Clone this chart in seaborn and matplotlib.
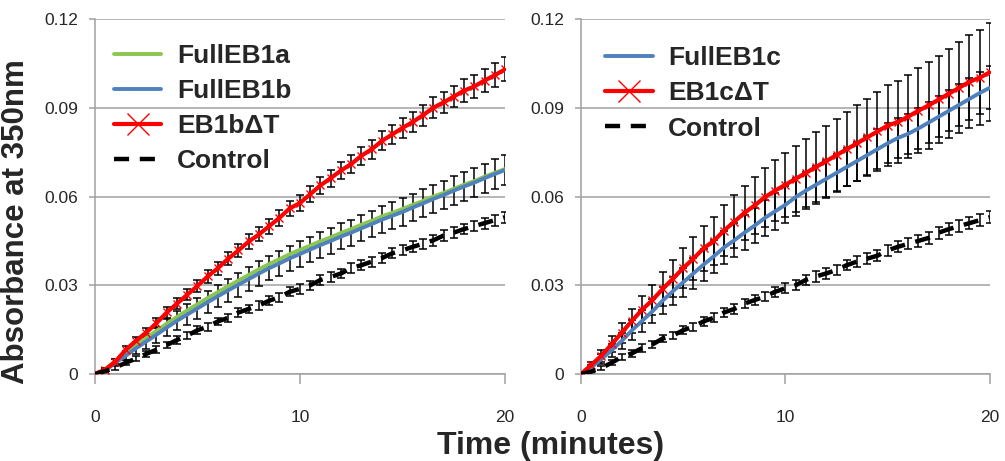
"""
Turbidity assay: absorbance at 350nm over time, two panels (EB1b and EB1c constructs).
Run: python plot.py
"""

import numpy as np
import pandas as pd
import matplotlib
matplotlib.use("Agg")
import matplotlib.pyplot as plt
import seaborn as sns

sns.set_style("white")
plt.rcParams.update({
    "font.family": ["Liberation Sans", "DejaVu Sans"],
    "axes.spines.top": False,
    "axes.spines.right": False,
})

# ---- data ----
time = [i * 0.5 for i in range(41)]  # minutes, 0..20 every 30 s

left_full_a = [0.0000, 0.0015, 0.0045, 0.0072, 0.0098, 0.0122, 0.0146, 0.0170, 0.0193, 0.0215,
               0.0236, 0.0257, 0.0277, 0.0297, 0.0316, 0.0335, 0.0354, 0.0372, 0.0388, 0.0405,
               0.0420, 0.0434, 0.0449, 0.0462, 0.0477, 0.0490, 0.0505, 0.0518, 0.0533, 0.0545,
               0.0558, 0.0572, 0.0585, 0.0600, 0.0612, 0.0626, 0.0640, 0.0652, 0.0667, 0.0680,
               0.0693]
left_full_b = [0.0000, 0.0012, 0.0038, 0.0062, 0.0087, 0.0110, 0.0133, 0.0157, 0.0180, 0.0201,
               0.0222, 0.0243, 0.0263, 0.0283, 0.0302, 0.0321, 0.0340, 0.0358, 0.0374, 0.0391,
               0.0406, 0.0421, 0.0436, 0.0450, 0.0465, 0.0478, 0.0493, 0.0507, 0.0522, 0.0535,
               0.0548, 0.0563, 0.0577, 0.0592, 0.0605, 0.0620, 0.0634, 0.0647, 0.0662, 0.0676,
               0.0690]
left_dt = [0.0000, 0.0015, 0.0042, 0.0082, 0.0112, 0.0140, 0.0172, 0.0208, 0.0238, 0.0268,
           0.0298, 0.0330, 0.0358, 0.0390, 0.0418, 0.0448, 0.0472, 0.0500, 0.0528, 0.0560,
           0.0578, 0.0608, 0.0638, 0.0662, 0.0688, 0.0710, 0.0738, 0.0760, 0.0788, 0.0810,
           0.0832, 0.0852, 0.0875, 0.0900, 0.0918, 0.0938, 0.0958, 0.0972, 0.0992, 0.1010,
           0.1030]
left_ctrl = [0.0000, 0.0010, 0.0022, 0.0038, 0.0052, 0.0068, 0.0082, 0.0098, 0.0115, 0.0130,
             0.0148, 0.0160, 0.0178, 0.0190, 0.0208, 0.0220, 0.0232, 0.0248, 0.0260, 0.0278,
             0.0288, 0.0300, 0.0318, 0.0328, 0.0340, 0.0358, 0.0368, 0.0380, 0.0392, 0.0408,
             0.0418, 0.0430, 0.0440, 0.0452, 0.0468, 0.0478, 0.0490, 0.0500, 0.0510, 0.0520,
             0.0530]

left_full_b_err = [0.0000, 0.0008, 0.0012, 0.0016, 0.0020, 0.0024, 0.0027, 0.0030, 0.0032, 0.0034,
                   0.0036, 0.0037, 0.0038, 0.0039, 0.0040, 0.0040, 0.0041, 0.0041, 0.0042, 0.0042,
                   0.0043, 0.0043, 0.0043, 0.0044, 0.0044, 0.0044, 0.0045, 0.0045, 0.0045, 0.0046,
                   0.0046, 0.0046, 0.0047, 0.0047, 0.0047, 0.0048, 0.0048, 0.0049, 0.0049, 0.0050,
                   0.0051]
left_dt_err = [0.0000, 0.0006, 0.0009, 0.0011, 0.0013, 0.0014, 0.0016, 0.0017, 0.0018, 0.0019,
               0.0020, 0.0021, 0.0022, 0.0022, 0.0023, 0.0024, 0.0024, 0.0025, 0.0026, 0.0026,
               0.0027, 0.0028, 0.0028, 0.0029, 0.0030, 0.0030, 0.0031, 0.0032, 0.0032, 0.0033,
               0.0034, 0.0034, 0.0035, 0.0036, 0.0036, 0.0037, 0.0038, 0.0038, 0.0039, 0.0040,
               0.0041]
left_ctrl_err = [0.0000, 0.0005, 0.0007, 0.0008, 0.0009, 0.0010, 0.0011, 0.0011, 0.0012, 0.0012,
                 0.0013, 0.0013, 0.0013, 0.0014, 0.0014, 0.0014, 0.0015, 0.0015, 0.0015, 0.0015,
                 0.0016, 0.0016, 0.0016, 0.0016, 0.0016, 0.0017, 0.0017, 0.0017, 0.0017, 0.0017,
                 0.0017, 0.0018, 0.0018, 0.0018, 0.0018, 0.0018, 0.0018, 0.0018, 0.0019, 0.0019,
                 0.0019]

right_full_c = [0.0000, 0.0022, 0.0050, 0.0080, 0.0112, 0.0148, 0.0180, 0.0212, 0.0248, 0.0280,
                0.0310, 0.0340, 0.0370, 0.0398, 0.0428, 0.0452, 0.0478, 0.0502, 0.0528, 0.0550,
                0.0572, 0.0598, 0.0620, 0.0640, 0.0660, 0.0680, 0.0700, 0.0720, 0.0740, 0.0760,
                0.0780, 0.0798, 0.0812, 0.0830, 0.0850, 0.0870, 0.0890, 0.0910, 0.0930, 0.0950,
                0.0968]
right_dt = [0.0000, 0.0030, 0.0062, 0.0100, 0.0140, 0.0180, 0.0218, 0.0250, 0.0288, 0.0322,
            0.0358, 0.0390, 0.0425, 0.0450, 0.0485, 0.0515, 0.0545, 0.0570, 0.0598, 0.0620,
            0.0640, 0.0660, 0.0680, 0.0700, 0.0720, 0.0740, 0.0760, 0.0780, 0.0800, 0.0820,
            0.0840, 0.0852, 0.0870, 0.0890, 0.0908, 0.0928, 0.0948, 0.0968, 0.0988, 0.1002,
            0.1020]
right_ctrl = [0.0000, 0.0008, 0.0020, 0.0038, 0.0058, 0.0070, 0.0088, 0.0100, 0.0120, 0.0130,
              0.0148, 0.0160, 0.0178, 0.0190, 0.0208, 0.0220, 0.0238, 0.0250, 0.0262, 0.0278,
              0.0290, 0.0300, 0.0318, 0.0330, 0.0340, 0.0352, 0.0368, 0.0380, 0.0390, 0.0400,
              0.0418, 0.0430, 0.0440, 0.0450, 0.0460, 0.0478, 0.0490, 0.0500, 0.0510, 0.0520,
              0.0530]

right_full_c_err = [0.0000, 0.0010, 0.0016, 0.0022, 0.0028, 0.0033, 0.0037, 0.0041, 0.0045, 0.0048,
                    0.0050, 0.0052, 0.0054, 0.0056, 0.0057, 0.0058, 0.0059, 0.0060, 0.0061, 0.0062,
                    0.0062, 0.0063, 0.0063, 0.0064, 0.0064, 0.0065, 0.0065, 0.0066, 0.0066, 0.0067,
                    0.0067, 0.0068, 0.0068, 0.0069, 0.0069, 0.0070, 0.0070, 0.0071, 0.0071, 0.0072,
                    0.0072]
right_dt_err = [0.0000, 0.0012, 0.0020, 0.0027, 0.0034, 0.0040, 0.0046, 0.0052, 0.0058, 0.0063,
                0.0068, 0.0073, 0.0077, 0.0081, 0.0085, 0.0089, 0.0092, 0.0096, 0.0100, 0.0104,
                0.0108, 0.0111, 0.0114, 0.0117, 0.0120, 0.0123, 0.0126, 0.0128, 0.0131, 0.0133,
                0.0136, 0.0138, 0.0141, 0.0143, 0.0146, 0.0148, 0.0151, 0.0154, 0.0157, 0.0161,
                0.0165]
right_ctrl_err = [0.0000, 0.0005, 0.0007, 0.0009, 0.0010, 0.0011, 0.0012, 0.0012, 0.0013, 0.0013,
                  0.0014, 0.0014, 0.0015, 0.0015, 0.0015, 0.0016, 0.0016, 0.0016, 0.0016, 0.0017,
                  0.0017, 0.0017, 0.0017, 0.0018, 0.0018, 0.0018, 0.0018, 0.0018, 0.0019, 0.0019,
                  0.0019, 0.0019, 0.0019, 0.0019, 0.0020, 0.0020, 0.0020, 0.0020, 0.0020, 0.0020,
                  0.0021]

y_ticks = [0, 0.03, 0.06, 0.09, 0.12]
y_tick_labels = ["0", "0.03", "0.06", "0.09", "0.12"]
x_ticks = [0, 10, 20]
x_tick_labels = ["0", "10", "20"]

GREEN = "#8CC652"
BLUE = "#4F81BD"
RED = "#FF0000"
GRID = "#a0a0a0"
TICK_FONT = ["Liberation Sans Narrow", "Liberation Sans", "DejaVu Sans"]


def draw_series(ax, y, label, color, lw, marker=None, ls="-", err=None):
    df = pd.DataFrame({"time": time, "abs": y})
    if err is not None:
        ax.errorbar(time, y, yerr=err, fmt="none", ecolor="black",
                    elinewidth=1.1, capsize=3.0, capthick=1.1, zorder=2)
    kws = dict(color=color, linewidth=lw, linestyle=ls, label=label, ax=ax, zorder=3)
    if marker:
        kws.update(marker=marker, markersize=6, markeredgewidth=1.0,
                   markeredgecolor=color)
    sns.lineplot(data=df, x="time", y="abs", **kws)


def style_axes(ax):
    ax.set_xlim(0, 20)
    ax.set_ylim(0, 0.12)
    ax.set_yticks(y_ticks)
    ax.set_yticklabels(y_tick_labels, fontfamily=TICK_FONT, fontsize=12.5)
    ax.set_xticks(x_ticks)
    ax.set_xticklabels(x_tick_labels, fontfamily=TICK_FONT, fontsize=12.5)
    ax.yaxis.grid(True, color=GRID, linewidth=1.1)
    ax.xaxis.grid(False)
    for s in ("left", "bottom"):
        ax.spines[s].set_color(GRID)
        ax.spines[s].set_linewidth(1.1)
    ax.tick_params(axis="x", direction="out", length=7, width=1.1, color=GRID,
                   pad=19, bottom=True)
    ax.tick_params(axis="y", direction="out", length=4, width=1.1, color=GRID,
                   pad=8, left=True)
    ax.set_xlabel("")
    ax.set_ylabel("")


def make_legend(ax, x0, y0):
    ax.legend(loc="upper left", bbox_to_anchor=(x0, y0), frameon=False,
              prop={"family": "Liberation Sans", "weight": "bold", "size": 19},
              handlelength=1.8, handletextpad=0.6, labelspacing=0.42,
              borderpad=0, borderaxespad=0, markerscale=2.6)


fig = plt.figure(figsize=(10.05, 4.61), dpi=100)
ax_l = fig.add_axes([0.0945, 0.1887, 0.408, 0.770])
ax_r = fig.add_axes([0.578, 0.1887, 0.407, 0.770])

ctrl_ls = (0, (3.4, 2.4))

# --- left panel: EB1a / EB1b ---
draw_series(ax_l, left_full_a, "FullEB1a", GREEN, 2.8)
draw_series(ax_l, left_full_b, "FullEB1b", BLUE, 2.8, err=left_full_b_err)
draw_series(ax_l, left_dt, "EB1b\u0394T", RED, 3.0, marker="x", err=left_dt_err)
draw_series(ax_l, left_ctrl, "Control", "black", 3.2, ls=ctrl_ls, err=left_ctrl_err)
style_axes(ax_l)
make_legend(ax_l, 0.046, 0.93)

# --- right panel: EB1c ---
draw_series(ax_r, right_full_c, "FullEB1c", BLUE, 2.8, err=right_full_c_err)
draw_series(ax_r, right_dt, "EB1c\u0394T", RED, 3.0, marker="x", err=right_dt_err)
draw_series(ax_r, right_ctrl, "Control", "black", 3.2, ls=ctrl_ls, err=right_ctrl_err)
style_axes(ax_r)
make_legend(ax_r, 0.059, 0.923)

ax_l.set_ylabel("Absorbance at 350nm", fontsize=22.5, fontweight="bold")
ax_l.yaxis.set_label_coords(-0.155, 0.43)
fig.text(0.548, 0.033, "Time (minutes)", ha="center", va="center",
         fontsize=23, fontweight="bold")

fig.savefig("out.png", dpi=100)
